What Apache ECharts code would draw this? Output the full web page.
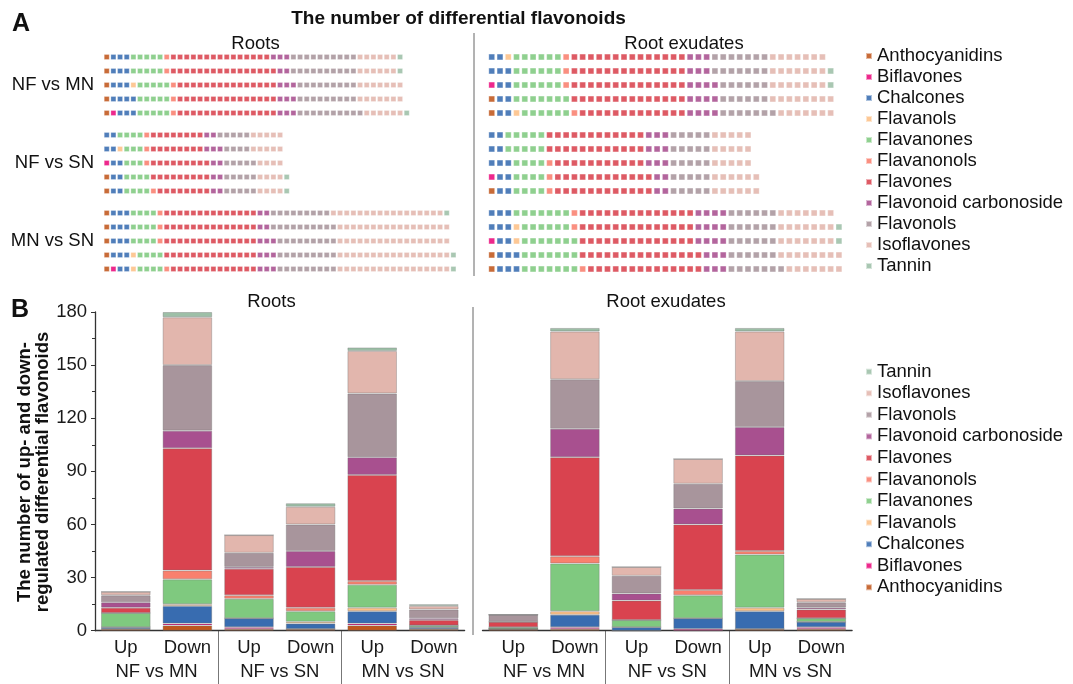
<!DOCTYPE html>
<html>
<head>
<meta charset="utf-8">
<script src="https://cdn.jsdelivr.net/npm/echarts@6/dist/echarts.min.js"></script>
<style>
  html, body { margin: 0; padding: 0; background: #fff; }
  #main { width: 1073px; height: 684px; }
</style>
</head>
<body>
<div id="main"></div>
<script>
// flavonoid classes and their colours
var classes = ['Anthocyanidins', 'Biflavones', 'Chalcones', 'Flavanols', 'Flavanones', 'Flavanonols',
  'Flavones', 'Flavonoid carbonoside', 'Flavonols', 'Isoflavones', 'Tannin'];
var colors = ['#c0571c', '#ea0a7c', '#386cb0', '#fdc086', '#7fc97f', '#f9806e',
  '#d9434f', '#a8508f', '#a8959c', '#e2b6ad', '#9dbfa7'];
var groups = ['NF vs MN', 'NF vs SN', 'MN vs SN'];
var barCats = ['Up', 'Down', 'Up', 'Down', 'Up', 'Down'];

// panel A: squares per class in each row (order as in classes)
var rootsNFvsMN = [
  [1, 0, 3, 0, 5, 1, 15, 3, 10, 6, 1],
  [1, 0, 3, 0, 5, 1, 16, 2, 10, 6, 1],
  [1, 0, 3, 1, 5, 1, 15, 3, 9, 7, 0],
  [1, 0, 4, 0, 5, 1, 15, 3, 9, 7, 0],
  [1, 1, 3, 0, 5, 1, 15, 3, 10, 6, 1]
];
var rootsNFvsSN = [
  [0, 0, 2, 0, 4, 1, 8, 2, 5, 5, 0],
  [0, 0, 2, 1, 3, 1, 8, 3, 4, 5, 0],
  [0, 1, 2, 0, 3, 1, 9, 2, 5, 4, 0],
  [1, 0, 2, 0, 4, 0, 9, 2, 5, 4, 1],
  [1, 0, 2, 0, 4, 1, 8, 2, 5, 4, 1]
];
var rootsMNvsSN = [
  [1, 0, 3, 0, 4, 1, 14, 2, 9, 17, 1],
  [1, 0, 3, 0, 4, 1, 14, 2, 10, 17, 0],
  [1, 0, 3, 0, 4, 1, 14, 3, 9, 17, 0],
  [1, 0, 3, 1, 4, 0, 14, 3, 9, 17, 1],
  [1, 1, 2, 1, 4, 1, 13, 3, 9, 17, 1]
];
var exuNFvsMN = [
  [0, 0, 2, 1, 6, 1, 14, 3, 7, 7, 0],
  [0, 0, 3, 0, 6, 1, 14, 3, 7, 7, 1],
  [0, 1, 2, 0, 6, 1, 14, 4, 6, 7, 1],
  [1, 0, 2, 0, 7, 0, 14, 4, 6, 8, 0],
  [1, 0, 2, 1, 6, 1, 13, 4, 7, 7, 0]
];
var exuNFvsSN = [
  [0, 0, 2, 0, 5, 0, 12, 3, 5, 5, 0],
  [0, 0, 2, 0, 5, 0, 12, 3, 5, 5, 0],
  [0, 0, 3, 0, 4, 1, 11, 3, 5, 5, 0],
  [0, 1, 2, 0, 4, 1, 12, 2, 5, 6, 0],
  [1, 0, 2, 0, 4, 1, 12, 2, 5, 6, 0]
];
var exuMNvsSN = [
  [0, 0, 3, 0, 7, 1, 14, 4, 6, 7, 0],
  [0, 0, 3, 1, 6, 1, 14, 4, 6, 7, 1],
  [0, 1, 2, 1, 7, 0, 14, 4, 6, 7, 1],
  [1, 0, 3, 0, 7, 0, 15, 3, 6, 8, 0],
  [1, 0, 3, 0, 7, 1, 14, 3, 7, 7, 0]
];

// panel B: one row per class, values for Up/Down of each comparison
var rootsBars = [
  [1, 3, 1, 1, 3, 1],
  [0, 1, 1, 0, 1, 0],
  [1, 10, 5, 3, 7, 1],
  [0, 1, 0, 1, 2, 0],
  [8, 14, 11, 6, 13, 1],
  [0, 5, 2, 2, 2, 0],
  [3, 69, 15, 23, 60, 3],
  [3, 10, 1, 9, 10, 1],
  [4, 37, 8, 15, 36, 5],
  [2, 27, 10, 10, 24, 2],
  [0, 3, 0, 2, 2, 1]
];
var exuBars = [
  [1, 1, 0, 0, 1, 1],
  [0, 1, 0, 1, 0, 1],
  [0, 7, 2, 6, 10, 3],
  [0, 2, 0, 0, 2, 0],
  [1, 27, 4, 13, 30, 2],
  [0, 4, 0, 3, 2, 0],
  [3, 56, 11, 37, 54, 5],
  [0, 16, 4, 9, 16, 1],
  [4, 28, 10, 14, 26, 3],
  [0, 27, 5, 14, 28, 2],
  [0, 2, 0, 0, 2, 0]
];

var FONT = 'Liberation Sans, Arial, sans-serif';
var grids = [], xAxes = [], yAxes = [], series = [];

function addWaffle(rows, left, width, xmax, top, size) {
  var gi = grids.length;
  grids.push({left: left, top: top, width: width, height: 70});
  xAxes.push({type: 'value', gridIndex: gi, min: -0.5, max: xmax, show: false});
  yAxes.push({type: 'category', gridIndex: gi, data: ['1', '2', '3', '4', '5'], inverse: true, show: false});
  for (var c = 0; c < classes.length; c++) {
    var pts = [];
    for (var r = 0; r < rows.length; r++) {
      var pos = 0;
      for (var k = 0; k < c; k++) pos += rows[r][k];
      for (var n = 0; n < rows[r][c]; n++) pts.push([pos + n, r]);
    }
    series.push({
      type: 'scatter', name: classes[c], xAxisIndex: gi, yAxisIndex: gi,
      symbol: 'rect', symbolSize: size, silent: true,
      itemStyle: {color: colors[c], opacity: 0.88, borderColor: 'rgba(255,255,255,0.6)', borderWidth: 0.5},
      data: pts
    });
  }
}

addWaffle(rootsNFvsMN, 103.4, 400, 59.5, 50, 5);
addWaffle(rootsNFvsSN, 103.4, 400, 59.5, 128, 5);
addWaffle(rootsMNvsSN, 103.4, 400, 59.5, 206, 5);
addWaffle(exuNFvsMN, 487.6, 372, 44.5, 50, 5.8);
addWaffle(exuNFvsSN, 487.6, 372, 44.5, 128, 5.8);
addWaffle(exuMNvsSN, 487.6, 372, 44.5, 206, 5.8);

function addBars(data, left, showY, stackName) {
  var gi = grids.length;
  grids.push({left: left, top: 312, width: 369.6, height: 318.7});
  xAxes.push({
    type: 'category', gridIndex: gi, data: barCats,
    axisLine: {lineStyle: {color: '#333', width: 1.3}},
    axisTick: {alignWithLabel: true, length: 4, lineStyle: {color: '#333'}},
    axisLabel: {fontFamily: FONT, fontSize: 18.5, color: '#1a1a1a', margin: 8}
  });
  yAxes.push({
    type: 'value', gridIndex: gi, min: 0, max: 180, interval: 30, show: showY,
    axisLine: {show: true, lineStyle: {color: '#333', width: 1.3}},
    axisTick: {show: true, length: 4, lineStyle: {color: '#333'}},
    minorTick: {show: true, splitNumber: 2, length: 3, lineStyle: {color: '#333'}},
    splitLine: {show: false},
    axisLabel: {fontFamily: FONT, fontSize: 18.5, color: '#1a1a1a', margin: 8}
  });
  for (var c = 0; c < classes.length; c++) {
    series.push({
      type: 'bar', name: classes[c], xAxisIndex: gi, yAxisIndex: gi, stack: stackName,
      barCategoryGap: '19.5%', silent: true,
      itemStyle: {color: colors[c], borderColor: 'rgba(110,110,110,0.35)', borderWidth: 1},
      data: data[c]
    });
  }
}

addBars(rootsBars, 95, true, 'roots');
addBars(exuBars, 482.5, false, 'exu');

// group labels and separators under the bar axes
function addGroupAxis(left) {
  var gi = grids.length;
  grids.push({left: left, top: 631, width: 369.6, height: 53});
  xAxes.push({
    type: 'category', gridIndex: gi, data: groups,
    axisLine: {show: false}, axisTick: {show: false},
    splitLine: {show: true, showMinLine: false, showMaxLine: false, lineStyle: {color: '#777', width: 1}},
    axisLabel: {inside: true, margin: 3, fontFamily: FONT, fontSize: 18.5, color: '#1a1a1a'}
  });
  yAxes.push({type: 'value', gridIndex: gi, show: false});
}
addGroupAxis(95);
addGroupAxis(482.5);

function txt(x, y, s, size, bold, align) {
  return {
    type: 'text', x: x, y: y, silent: true,
    style: {text: s, fontFamily: FONT, fontSize: size, fontWeight: bold ? 'bold' : 'normal',
      fill: '#111', textAlign: align || 'center', textVerticalAlign: 'middle'}
  };
}

var graphics = [
  txt(21, 24, 'A', 25, true),
  txt(20, 310, 'B', 25, true),
  txt(458.5, 18.5, 'The number of differential flavonoids', 19, true),
  txt(255.5, 43.5, 'Roots', 18.5),
  txt(684, 43.5, 'Root exudates', 18.5),
  txt(271.5, 302, 'Roots', 18.5),
  txt(666, 302, 'Root exudates', 18.5),
  txt(94, 85, groups[0], 18.5, false, 'right'),
  txt(94, 163, groups[1], 18.5, false, 'right'),
  txt(94, 241, groups[2], 18.5, false, 'right'),
  {
    type: 'text', x: 34, y: 472, rotation: Math.PI / 2, silent: true,
    style: {text: 'The number of up- and down-\nregulated differential flavonoids', fontFamily: FONT,
      fontSize: 18.5, lineHeight: 18, fontWeight: 'bold', fill: '#111', textAlign: 'center', textVerticalAlign: 'middle'}
  },
  {type: 'line', silent: true, shape: {x1: 474, y1: 33, x2: 474, y2: 276}, style: {stroke: '#666', lineWidth: 1}},
  {type: 'line', silent: true, shape: {x1: 473, y1: 307, x2: 473, y2: 635}, style: {stroke: '#666', lineWidth: 1}}
];

var legendText = {fontFamily: FONT, fontSize: 18.5, color: '#111', lineHeight: 18};

var myChart = echarts.init(document.getElementById('main'), null, {renderer: 'canvas'});
var option = {
  backgroundColor: '#fff',
  animation: false,
  grid: grids,
  xAxis: xAxes,
  yAxis: yAxes,
  legend: [
    {orient: 'vertical', left: 865, top: 46.5, padding: 0, icon: 'rect', itemWidth: 6, itemHeight: 6,
      itemGap: 2, selectedMode: false, data: classes, textStyle: legendText},
    {orient: 'vertical', left: 865, top: 362.2, padding: 0, icon: 'rect', itemWidth: 6, itemHeight: 6,
      itemGap: 2.56, selectedMode: false, data: classes.slice().reverse(), textStyle: legendText}
  ],
  graphic: graphics,
  series: series
};
myChart.setOption(option);
</script>
</body>
</html>
